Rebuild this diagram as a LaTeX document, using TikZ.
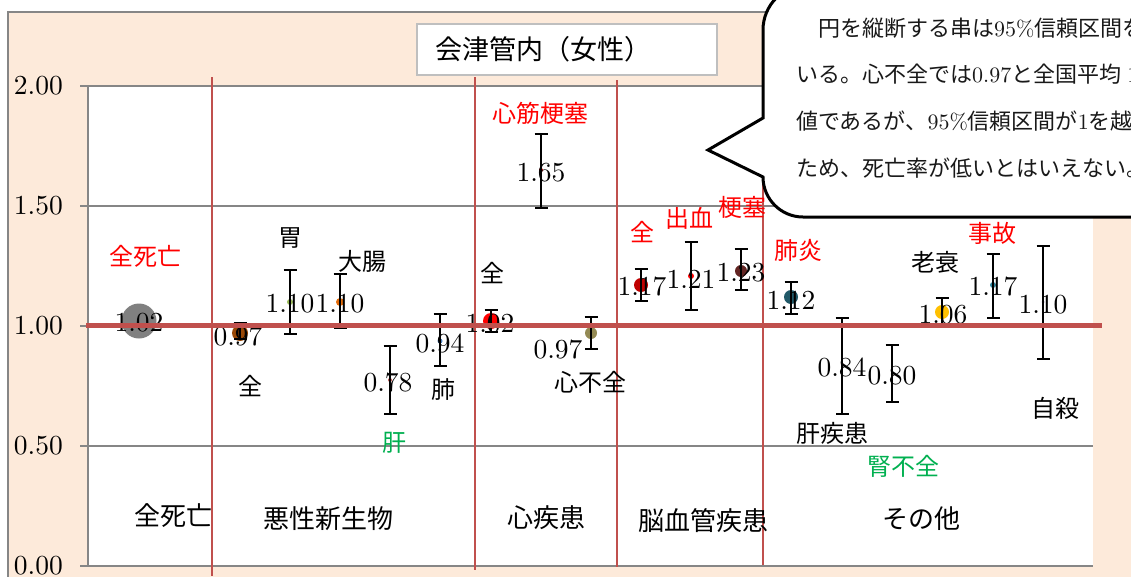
\documentclass[tikz,border=0pt]{standalone}
\usepackage{fontspec}
\usepackage{xcolor}
\usepackage{tikz}
\usetikzlibrary{arrows.meta}
\newfontfamily\jpfont{Noto Sans CJK JP}
\newfontfamily\numfam{lmroman10-regular.otf}
\definecolor{peach}{HTML}{FDEADA}
\definecolor{axisgray}{HTML}{868686}
\definecolor{boxgray}{HTML}{BFBFBF}
\definecolor{sepred}{HTML}{C0504D}
\definecolor{lblred}{HTML}{FF0000}
\definecolor{lblgreen}{HTML}{00B050}
\newcommand{\valfont}{\numfam\fontsize{27.5}{30}\selectfont}
\newcommand{\bubfont}{\fontsize{22}{24}\selectfont}

\begin{document}
\begin{tikzpicture}
  [
    x=1pt, y=-1pt,
    Dot/.style={circle, draw=none, inner sep=0pt},
    Val/.style={font=\valfont, inner sep=0pt},
    Name/.style={font=\jpfont\fontsize{24}{26}\selectfont, inner sep=0pt},
    RedName/.style={Name, text=lblred},
    GreenName/.style={Name, text=lblgreen},
    Cat/.style={font=\jpfont\fontsize{26}{28}\selectfont, inner sep=0pt},
    YLbl/.style={font=\valfont, anchor=east, inner sep=0pt},
    Err/.style={line width=1.8pt, {Bar[width=13pt]}-{Bar[width=13pt]}},
    Grid/.style={axisgray, line width=1.6pt},
    Sep/.style={sepred, line width=1.8pt},
    Bub/.style={font=\jpfont\bubfont, anchor=west, inner sep=0pt, text=black!90}
  ]
  \useasboundingbox (0,0) rectangle (1131,576);
  \clip (0,0) rectangle (1131,576);
  % Background
  \fill[peach] (8,12) rectangle (1140,580);
  \draw[axisgray, line width=1.6pt] (8,580) -- (8,12) -- (1140,12);
  \fill[white] (88,86) rectangle (1093,566);
  % Grid and axis
  \draw[Grid] (80,86) -- (1093,86);
  \draw[Grid] (80,206) -- (1093,206);
  \draw[Grid] (80,326) -- (88,326);
  \draw[Grid] (80,446) -- (1093,446);
  \draw[Grid] (80,566) -- (1093,566);
  \draw[Grid] (88,86) -- (88,566);
  \node[YLbl] (y4) at (63,86) {2.00};
  \node[YLbl] (y3) at (63,206) {1.50};
  \node[YLbl] (y2) at (63,326) {1.00};
  \node[YLbl] (y1) at (63,446) {0.50};
  \node[YLbl] (y0) at (63,566) {0.00};
  % Separators
  \draw[Sep] (212,77) -- (212,576);
  \draw[Sep] (475,77) -- (475,570);
  \draw[Sep] (617,80) -- (617,567);
  \draw[Sep] (763,150) -- (763,565);
  % Points
  \node[Dot, fill=black!50, minimum size=35pt] (p1) at (139,321) {};
  \node[Dot, fill={rgb,255:red,152;green,72;blue,7}, minimum size=16pt] (p2) at (240,333) {};
  \node[Dot, fill={rgb,255:red,155;green,187;blue,89}, minimum size=6pt] (p3) at (290,302) {};
  \node[Dot, fill={rgb,255:red,228;green,108;blue,10}, minimum size=8pt] (p4) at (340,302) {};
  \node[Dot, fill=sepred, minimum size=4pt] (p5) at (390,380) {};
  \node[Dot, fill={rgb,255:red,79;green,129;blue,189}, minimum size=5pt] (p6) at (440,341) {};
  \node[Dot, fill=lblred, minimum size=16pt] (p7) at (491,321) {};
  \node[Dot, fill={rgb,255:red,192;green,0;blue,0}, minimum size=4pt] (p8) at (541,170) {};
  \node[Dot, fill={rgb,255:red,148;green,138;blue,84}, minimum size=12pt] (p9) at (591,333) {};
  \node[Dot, fill={rgb,255:red,192;green,0;blue,0}, minimum size=14pt] (p10) at (641,285) {};
  \node[Dot, fill=lblred, minimum size=6pt] (p11) at (691,276) {};
  \node[Dot, fill={rgb,255:red,99;green,37;blue,35}, minimum size=12pt] (p12) at (741,271) {};
  \node[Dot, fill={rgb,255:red,33;green,89;blue,104}, minimum size=14pt] (p13) at (791,297) {};
  \node[Dot, fill=sepred, minimum size=3pt] (p14) at (842,364) {};
  \node[Dot, fill={rgb,255:red,148;green,138;blue,84}, minimum size=3pt] (p15) at (892,374) {};
  \node[Dot, fill={rgb,255:red,255;green,192;blue,0}, minimum size=14pt] (p16) at (942,312) {};
  \node[Dot, fill={rgb,255:red,49;green,133;blue,156}, minimum size=6pt] (p17) at (993,285) {};
  \node[Dot, fill={rgb,255:red,128;green,100;blue,162}, minimum size=3pt] (p18) at (1043,302) {};
  % Error bars
  \draw[Err] (240,322) -- (240,340);
  \draw[Err] (290,269) -- (290,335);
  \draw[Err] (340,273) -- (340,329);
  \draw[Err] (390,345) -- (390,415);
  \draw[Err] (440,313) -- (440,367);
  \draw[Err] (491,309) -- (491,333);
  \draw[Err] (541,133) -- (541,209);
  \draw[Err] (591,316) -- (591,350);
  \draw[Err] (641,268) -- (641,302);
  \draw[Err] (691,241) -- (691,311);
  \draw[Err] (741,248) -- (741,291);
  \draw[Err] (791,281) -- (791,315);
  \draw[Err] (842,317) -- (842,415);
  \draw[Err] (892,344) -- (892,403);
  \draw[Err] (942,297) -- (942,327);
  \draw[Err] (993,253) -- (993,319);
  \draw[Err] (1043,245) -- (1043,360);
  % Values
  \node[Val] (v1) at (139,323) {1.02};
  \node[Val] (v2) at (238,336) {0.97};
  \node[Val] (v3) at (290,304) {1.10};
  \node[Val] (v4) at (340,304) {1.10};
  \node[Val] (v5) at (388,382) {0.78};
  \node[Val] (v6) at (440,343) {0.94};
  \node[Val] (v7) at (490,324) {1.02};
  \node[Val] (v8) at (541,173) {1.65};
  \node[Val] (v9) at (558,349) {0.97};
  \node[Val] (v10) at (642,287) {1.17};
  \node[Val] (v11) at (691,279) {1.21};
  \node[Val] (v12) at (741,273) {1.23};
  \node[Val] (v13) at (791,300) {1.12};
  \node[Val] (v14) at (842,367) {0.84};
  \node[Val] (v15) at (892,376) {0.80};
  \node[Val] (v16) at (943,315) {1.06};
  \node[Val] (v17) at (993,287) {1.17};
  \node[Val] (v18) at (1043,305) {1.10};
  % Names
  \node[RedName] (n1) at (145,256) {全死亡};
  \node[Name] (n2) at (250,386) {全};
  \node[Name] (n3) at (290,238) {胃};
  \node[Name] (n4) at (362,261) {大腸};
  \node[GreenName] (n5) at (394,443) {肝};
  \node[Name] (n6) at (443,390) {肺};
  \node[Name] (n7) at (492,273) {全};
  \node[RedName] (n8) at (540,113) {心筋梗塞};
  \node[Name] (n9) at (590,382) {心不全};
  \node[RedName] (n10) at (642,232) {全};
  \node[RedName] (n11) at (689,218) {出血};
  \node[RedName] (n12) at (742,207) {梗塞};
  \node[RedName] (n13) at (798,250) {肺炎};
  \node[Name] (n14) at (832,433) {肝疾患};
  \node[GreenName] (n15) at (903,466) {腎不全};
  \node[Name] (n16) at (935,262) {老衰};
  \node[RedName] (n17) at (992,233) {事故};
  \node[Name] (n18) at (1055,408) {自殺};
  % Categories
  \node[Cat] (c1) at (173,516) {全死亡};
  \node[Cat] (c2) at (328,519) {悪性新生物};
  \node[Cat] (c3) at (546,518) {心疾患};
  \node[Cat] (c4) at (703,521) {脳血管疾患};
  \node[Cat] (c5) at (921,519) {その他};
  % Reference line
  \draw[sepred, line width=5pt] (86,325.5) -- (1102,325.5);
  % Title
  \node[draw=boxgray, line width=1.6pt, fill=white, anchor=west, text width=262pt,
    inner xsep=19pt, minimum height=51pt, align=left,
    font=\jpfont\fontsize{27}{30}\selectfont] (title) at (416,49.5) {会津管内（女性）};
  % Callout
  \draw[line width=3pt, fill=white] (763,118) -- (708,150) -- (763,177)
    .. controls (763,199) and (781,217) .. (803,217) -- (1150,217) -- (1150,-15)
    -- (808,-15) .. controls (783,-15) and (763,5) .. (763,30) -- cycle;
  \node[Bub] (b1) at (796,28) {　円を縦断する串は{\numfam 95\%}信頼区間を};
  \node[Bub] (b2) at (796,74) {いる。心不全では{\numfam 0.97}と全国平均\hspace{6pt}{\numfam 1}};
  \node[Bub] (b3) at (796,121) {値であるが、{\numfam 95\%}信頼区間が{\numfam 1}を越};
  \node[Bub] (b4) at (796,168) {ため、死亡率が低いとはいえない。};
\end{tikzpicture}
\end{document}
